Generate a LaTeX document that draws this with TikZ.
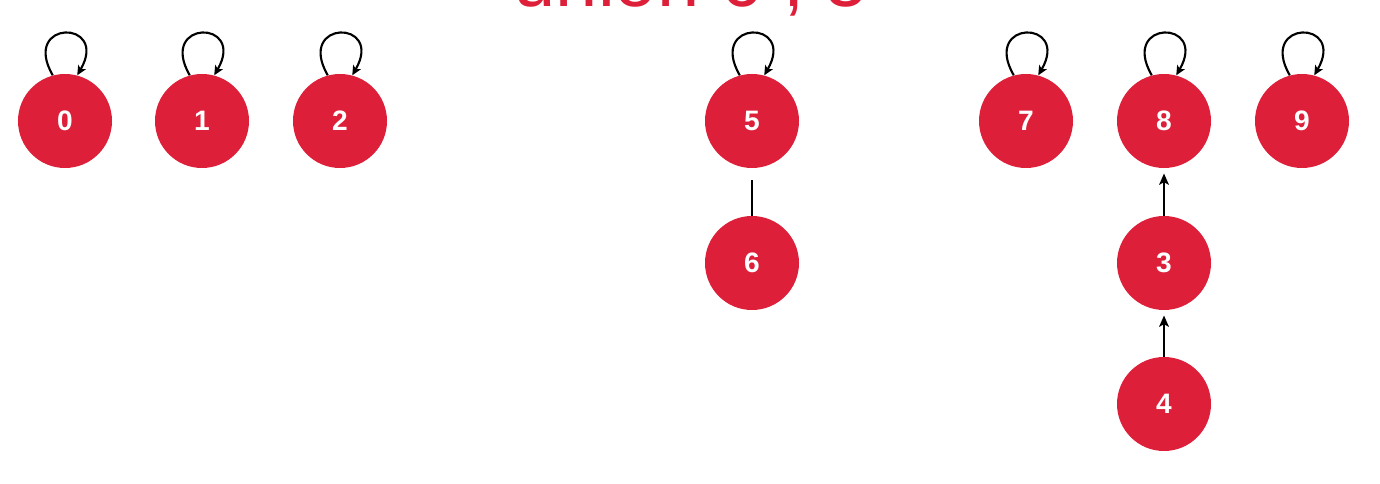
\documentclass[tikz,border=0pt]{standalone}
\usepackage{fontspec}
\setmainfont{Liberation Sans}
\usetikzlibrary{arrows.meta}
\definecolor{setred}{HTML}{DD1F3A}

\begin{document}
\begin{tikzpicture}[
  x=0.25mm, y=-0.25mm,
  % one element of the disjoint set
  elem/.style={circle, fill=setred, minimum size=23.5mm, inner sep=0,
               text=white, font=\fontsize{20}{24}\selectfont\bfseries},
  % a root points at itself
  selfloop/.style={-{Stealth[length=2.4mm, width=2.2mm, inset=0.6mm]},
                   line width=1.5pt, out=120, in=60, looseness=6.8},
  % child -> parent
  parent/.style={-{Stealth[length=2.8mm, width=2.4mm, inset=0.6mm]},
                 line width=1.5pt, shorten >=1.3mm},
  % the pointer being drawn, head not there yet
  link/.style={line width=1.5pt, shorten >=3mm}
]
\useasboundingbox (0,0) rectangle (1380,484);

% ══ heading, cut by the top edge ═══════════════════════════════════════════
\node[anchor=base, text=setred, font=\fontsize{54}{60}\selectfont, inner sep=0]
  (title) at (691,7) {union 6 , 5};

% ══ elements ═══════════════════════════════════════════════════════════════
\foreach \k/\cx/\cy in {0/65/121, 1/202/121, 2/340/121, 5/752/121, 7/1026/121,
                        8/1164/121, 9/1302/121, 6/752/263, 3/1164/263,
                        4/1164/404}{
  \node[elem] (n\k) at (\cx,\cy) {\k};
}

% ══ roots ══════════════════════════════════════════════════════════════════
\foreach \k in {0,1,2,5,7,8,9}{
  \draw[selfloop] (n\k.105) to (n\k.75);
}

% ══ parent pointers ════════════════════════════════════════════════════════
\draw[link] (n6) -- (n5);
\draw[parent] (n3) -- (n8);
\draw[parent] (n4) -- (n3);

\end{tikzpicture}
\end{document}
